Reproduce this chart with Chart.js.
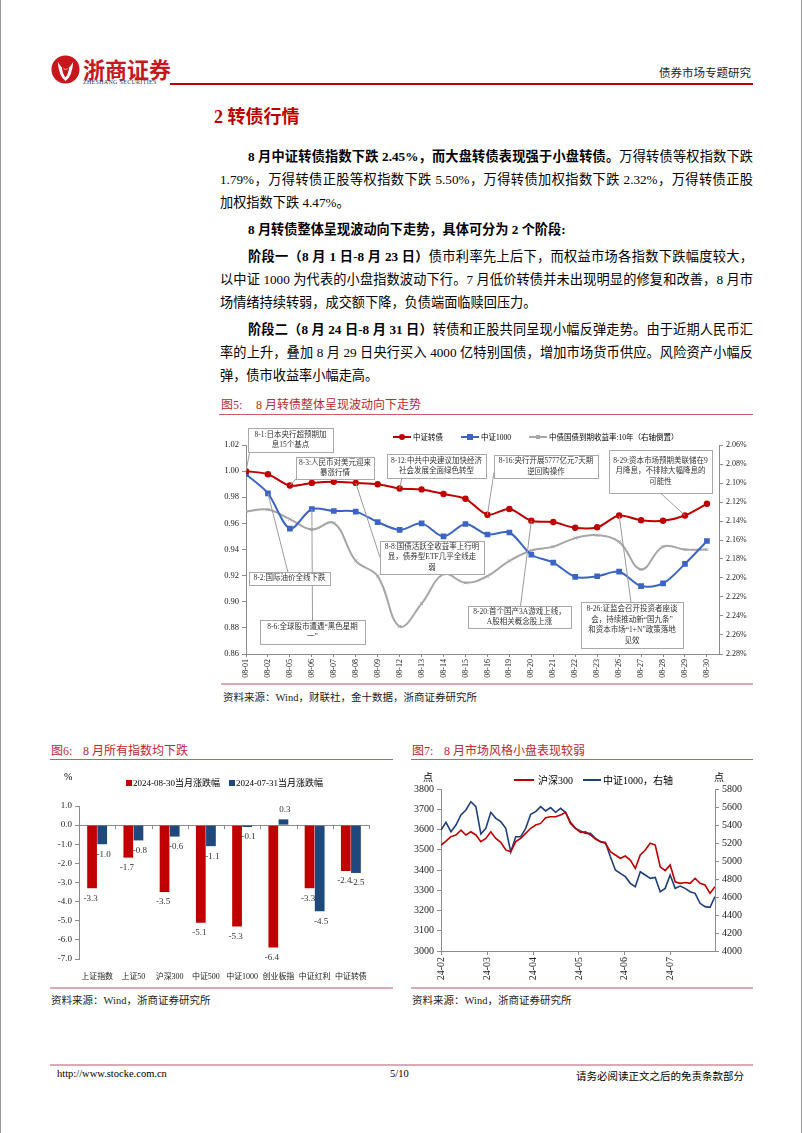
<!DOCTYPE html>
<html>
<head>
<meta charset="utf-8">
<script src="https://cdn.jsdelivr.net/npm/chart.js@4/dist/chart.umd.min.js"></script>
<style>
  body { margin: 0; background: #fff; }
  #page { position: relative; width: 800px; height: 1133px; border-left: 1px solid #999; border-right: 1px solid #999;
          overflow: hidden; font-family: "Liberation Serif", "Noto Sans CJK SC", serif; color: #000; }
  .abs { position: absolute; white-space: nowrap; }
  .ln { position: absolute; left: 219px; width: 533px; height: 22px; line-height: 22px; font-size: 13.2px;
        white-space: nowrap; text-align: justify; text-align-last: justify; }
  .ln.ind { left: 247px; width: 505px; }
  .ln.end { text-align-last: left; }
  .ftitle { position: absolute; font-size: 12px; color: #C0282D; white-space: nowrap; }
  .rline { position: absolute; height: 1px; background: #CE5B60; }
  .pline { position: absolute; height: 2px; background: #DDA9B2; }
  .src { position: absolute; font-size: 10.5px; color: #222; white-space: nowrap; }
  canvas { position: absolute; }
</style>
</head>
<body>
<div id="page">
  <!-- header -->
  <svg class="abs" style="left:50px;top:55px" width="29" height="29" viewBox="0 0 30 30">
    <circle cx="15" cy="15" r="14.5" fill="#C8161D"/>
    <path d="M7 7 Q15 22 23 7 Q22 22 15 27 Q8 22 7 7Z" fill="#fff"/>
    <path d="M11 11 Q15 19 19 11 Q18 20 15 23 Q12 20 11 11Z" fill="#C8161D"/>
  </svg>
  <div class="abs" style="left:82px;top:52px;font-size:22px;font-weight:700;color:#C8161D;font-family:'Noto Sans CJK SC'">浙商证券</div>
  <div class="abs" style="left:82px;top:79px;font-size:6px;letter-spacing:0.3px;color:#333">ZHESHANG SECURITIES</div>
  <div class="abs" style="left:169px;top:83px;width:583px;height:2px;background:#C00000"></div>
  <div class="abs" style="left:658px;top:64px;font-size:11.5px;color:#222">债券市场专题研究</div>

  <div class="abs" style="left:213px;top:102px;font-size:18px;font-weight:700;color:#C00000">2 转债行情</div>

  <div class="ln ind" style="top:146px"><b>8 月中证转债指数下跌 2.45%，而大盘转债表现强于小盘转债。</b>万得转债等权指数下跌</div>
  <div class="ln" style="top:169px">1.79%，万得转债正股等权指数下跌 5.50%，万得转债加权指数下跌 2.32%，万得转债正股</div>
  <div class="ln end" style="top:192px">加权指数下跌 4.47%。</div>
  <div class="ln ind end" style="top:219px"><b>8 月转债整体呈现波动向下走势，具体可分为 2 个阶段:</b></div>
  <div class="ln ind" style="top:246px"><b>阶段一（8 月 1 日-8 月 23 日）</b>债市利率先上后下，而权益市场各指数下跌幅度较大，</div>
  <div class="ln" style="top:269px">以中证 1000 为代表的小盘指数波动下行。7 月低价转债并未出现明显的修复和改善，8 月市</div>
  <div class="ln end" style="top:292px">场情绪持续转弱，成交额下降，负债端面临赎回压力。</div>
  <div class="ln ind" style="top:319px"><b>阶段二（8 月 24 日-8 月 31 日）</b>转债和正股共同呈现小幅反弹走势。由于近期人民币汇</div>
  <div class="ln" style="top:342px">率的上升，叠加 8 月 29 日央行买入 4000 亿特别国债，增加市场货币供应。风险资产小幅反</div>
  <div class="ln end" style="top:365px">弹，债市收益率小幅走高。</div>

  <!-- figure 5 -->
  <div class="ftitle" style="left:220px;top:395px">图5:</div>
  <div class="ftitle" style="left:255px;top:395px">8 月转债整体呈现波动向下走势</div>
  <div class="rline" style="left:218px;top:414px;width:534px"></div>
  <canvas id="c5" width="545" height="262" style="left:215px;top:420px"></canvas>
  <div class="abs" style="left:392px;top:436px;width:18px;height:2px;background:#C00000"></div>
  <div class="abs" style="left:398px;top:434px;width:6px;height:6px;border-radius:50%;background:#C00000"></div>
  <div class="abs" style="left:412px;top:431px;font-size:7.5px">中证转债</div>
  <div class="abs" style="left:460px;top:436px;width:18px;height:2px;background:#3B64C4"></div>
  <div class="abs" style="left:466px;top:434px;width:6px;height:6px;background:#3B64C4"></div>
  <div class="abs" style="left:480px;top:431px;font-size:7.5px">中证1000</div>
  <div class="abs" style="left:528px;top:436px;width:18px;height:2px;background:#A6A6A6"></div>
  <div class="abs" style="left:535px;top:435px;width:4px;height:4px;background:#A6A6A6"></div>
  <div class="abs" style="left:548px;top:431px;font-size:7.5px">中债国债到期收益率:10年（右轴倒置）</div>
  <div class="pline" style="left:220px;top:683px;width:532px"></div>
  <div class="src" style="left:222px;top:689px">资料来源：Wind，财联社，金十数据，浙商证券研究所</div>

  <!-- figure 6 -->
  <div class="ftitle" style="left:50px;top:741px">图6:</div>
  <div class="ftitle" style="left:82px;top:741px">8 月所有指数均下跌</div>
  <div class="rline" style="left:49px;top:759px;width:343px"></div>
  <canvas id="c6" width="352" height="220" style="left:40px;top:765px"></canvas>
  <div class="abs" style="left:63px;top:771px;font-size:10px">%</div>
  <div class="abs" style="left:125px;top:780px;width:6px;height:6px;background:#C00000"></div>
  <div class="abs" style="left:132px;top:776px;font-size:9px">2024-08-30当月涨跌幅</div>
  <div class="abs" style="left:228px;top:780px;width:6px;height:6px;background:#1F497D"></div>
  <div class="abs" style="left:235px;top:776px;font-size:9px">2024-07-31当月涨跌幅</div>
  <div class="pline" style="left:49px;top:987px;width:343px"></div>
  <div class="src" style="left:50px;top:992px">资料来源：Wind，浙商证券研究所</div>

  <!-- figure 7 -->
  <div class="ftitle" style="left:411px;top:741px">图7:</div>
  <div class="ftitle" style="left:443px;top:741px">8 月市场风格小盘表现较弱</div>
  <div class="rline" style="left:410px;top:759px;width:342px"></div>
  <canvas id="c7" width="360" height="220" style="left:400px;top:765px"></canvas>
  <div class="abs" style="left:422px;top:769px;font-size:10px">点</div>
  <div class="abs" style="left:713px;top:769px;font-size:10px">点</div>
  <div class="abs" style="left:513px;top:779px;width:20px;height:2px;background:#C00000"></div>
  <div class="abs" style="left:537px;top:772px;font-size:10px">沪深300</div>
  <div class="abs" style="left:582px;top:779px;width:18px;height:2px;background:#1F3F77"></div>
  <div class="abs" style="left:602px;top:772px;font-size:10px">中证1000，右轴</div>
  <div class="pline" style="left:410px;top:987px;width:342px"></div>
  <div class="src" style="left:411px;top:992px">资料来源：Wind，浙商证券研究所</div>

  <!-- footer -->
  <div class="pline" style="left:49px;top:1064px;width:703px"></div>
  <div class="abs" style="left:56px;top:1068px;font-size:10.5px">http://www.stocke.com.cn</div>
  <div class="abs" style="left:389px;top:1068px;font-size:10.5px">5/10</div>
  <div class="abs" style="left:575px;top:1068px;font-size:10.5px">请务必阅读正文之后的免责条款部分</div>
</div>

<script>
// Figure 5: August trading days
const days5 = ["08-01", "08-02", "08-05", "08-06", "08-07", "08-08", "08-09", "08-12", "08-13", "08-14", "08-15",
  "08-16", "08-19", "08-20", "08-21", "08-22", "08-23", "08-26", "08-27", "08-28", "08-29", "08-30"];
const cbIndex = [1.000, 0.9976, 0.989, 0.991, 0.9918, 0.991, 0.990, 0.9867, 0.986, 0.9825, 0.9788,
  0.9666, 0.971, 0.962, 0.961, 0.9566, 0.957, 0.966, 0.9624, 0.962, 0.966, 0.975];
const csi1000Norm = [0.9976, 0.983, 0.956, 0.971, 0.9695, 0.969, 0.961, 0.955, 0.960, 0.950, 0.9595,
  0.9515, 0.953, 0.936, 0.930, 0.919, 0.9195, 0.923, 0.912, 0.914, 0.929, 0.9465];
const gov10y = [2.130, 2.128, 2.138, 2.149, 2.142, 2.182, 2.198, 2.251, 2.227, 2.196, 2.205,
  2.198, 2.182, 2.171, 2.167, 2.158, 2.155, 2.162, 2.191, 2.167, 2.170, 2.170];

// event notes: series (0 red, 1 blue), day index, text lines
const noteText = [
  ["8-1:日本央行超预期加", "息15个基点"],
  ["8-3:人民币对美元迎来", "暴涨行情"],
  ["8-12:中共中央建议加快经济", "社会发展全面绿色转型"],
  ["8-16:央行开展5777亿元7天期", "逆回购操作"],
  ["8-29:资本市场预期美联储在9", "月降息，不排除大幅降息的", "可能性"],
  ["8-2:国际油价全线下跌"],
  ["8-6:全球股市遭遇“黑色星期", "一”"],
  ["8-8:国债活跃全收益率上行明", "显，债券型ETF几乎全线走", "弱"],
  ["8-20:首个国产3A游戏上线，", "A股相关概念股上涨"],
  ["8-26:证监会召开投资者座谈", "会，持续推动新“国九条”", "和资本市场“1+N”政策落地", "见效"]
];
const noteSeries = [0, 0, 0, 0, 0, 1, 1, 0, 0, 0];
const noteDay = [0, 2, 7, 11, 20, 1, 3, 5, 13, 17];

// Figure 6
const cats6 = ["上证指数", "上证50", "沪深300", "中证500", "中证1000", "创业板指", "中证红利", "中证转债"];
const aug6 = [-3.3, -1.7, -3.5, -5.1, -5.3, -6.4, -3.3, -2.4];
const jul6 = [-1.0, -0.8, -0.6, -1.1, -0.1, 0.3, -4.5, -2.5];

// Figure 7: sampled closes, Feb to end of period
const hs300 = [3523, 3543, 3565, 3573, 3597, 3573, 3589, 3573, 3540, 3556, 3589, 3556, 3537, 3499, 3490, 3540,
  3556, 3581, 3606, 3622, 3630, 3658, 3663, 3663, 3672, 3685, 3630, 3606, 3586, 3589, 3573, 3553, 3540, 3532,
  3490, 3474, 3458, 3469, 3449, 3408, 3474, 3499, 3532, 3523, 3416, 3397, 3425, 3342, 3334, 3338, 3334, 3359,
  3334, 3326, 3285, 3318];
const csi1000 = [5344, 5430, 5326, 5400, 5511, 5567, 5659, 5604, 5300, 5363, 5541, 5474, 5437, 5363, 5100, 5270,
  5270, 5363, 5519, 5548, 5604, 5556, 5593, 5541, 5585, 5541, 5430, 5363, 5333, 5307, 5307, 5252, 5215, 5207,
  5048, 4900, 4863, 4826, 4752, 4715, 4881, 4844, 4807, 4818, 4659, 4696, 4844, 4696, 4722, 4696, 4659, 4641,
  4530, 4493, 4485, 4604];
const monthLbl = ["24-02", "24-03", "24-04", "24-05", "24-06", "24-07"];
const monthPos = [0, 9.4, 18.5, 27.7, 36.9, 46.1];

Chart.defaults.font.family = '"Liberation Serif", "Noto Sans CJK SC", serif';
Chart.defaults.color = "#222";
Chart.defaults.animation = false;
Chart.defaults.responsive = false;
Chart.defaults.plugins.legend.display = false;
Chart.defaults.plugins.tooltip.enabled = false;

const AX = "#8c8c8c";
const toXY = arr => arr.map((v, i) => ({ x: i, y: v }));

// note boxes (canvas px): x, y, w, h, anchor fraction ax, ay
const noteBox = [
  [32, 8, 85, 24, 0.02, 1], [80, 37, 78, 22, 0, 1], [171, 34, 99, 24, 0.15, 1], [278, 35, 104, 23, 0, 0.75],
  [393, 30, 103, 43, 0.5, 1], [33, 152, 81, 13, 0.48, 0], [44, 200, 105, 24, 0.5, 0], [164, 121, 104, 33, 0, 0.5],
  [252, 186, 103, 22, 0.51, 0], [365, 182, 102, 46, 0.49, 0]
];

const notesPlugin = {
  id: "notes",
  afterDatasetsDraw(chart) {
    const ctx = chart.ctx;
    ctx.save();
    ctx.strokeStyle = "#9a9a9a";
    ctx.lineWidth = 1;
    noteBox.forEach((b, k) => {
      const pt = chart.getDatasetMeta(noteSeries[k]).data[noteDay[k]];
      ctx.beginPath();
      ctx.moveTo(b[0] + b[2] * b[4], b[1] + b[3] * b[5]);
      ctx.lineTo(pt.x, pt.y);
      ctx.stroke();
    });
    ctx.font = '7.5px "Liberation Serif", "Noto Sans CJK SC", serif';
    ctx.textAlign = "center";
    ctx.textBaseline = "middle";
    noteBox.forEach((b, k) => {
      ctx.fillStyle = "#fff";
      ctx.fillRect(b[0], b[1], b[2], b[3]);
      ctx.strokeStyle = "#a8a8a8";
      ctx.strokeRect(b[0] + 0.5, b[1] + 0.5, b[2], b[3]);
      ctx.fillStyle = "#333";
      const lines = noteText[k];
      const cy = b[1] + b[3] / 2;
      lines.forEach((t, j) => ctx.fillText(t, b[0] + b[2] / 2, cy + (j - (lines.length - 1) / 2) * 10.5));
    });
    ctx.restore();
  }
};

new Chart(document.getElementById("c5"), {
  type: "line",
  data: {
    datasets: [
      { data: toXY(cbIndex), yAxisID: "y", borderColor: "#C00000", backgroundColor: "#C00000", borderWidth: 2,
        pointStyle: "circle", pointRadius: 2.2, tension: 0.3, order: 0 },
      { data: toXY(csi1000Norm), yAxisID: "y", borderColor: "#3B64C4", backgroundColor: "#3B64C4", borderWidth: 2,
        pointStyle: "rect", pointRadius: 2.6, tension: 0.3, order: 1 },
      { data: toXY(gov10y), yAxisID: "y2", borderColor: "#A6A6A6", backgroundColor: "#A6A6A6", borderWidth: 2,
        pointStyle: "crossRot", pointRadius: 2.2, pointBorderWidth: 1, tension: 0.4, order: 2 }
    ]
  },
  options: {
    layout: { padding: { top: 25 } },
    scales: {
      x: {
        type: "linear", min: 0, max: 21.55,
        afterBuildTicks: a => { a.ticks = days5.map((d, i) => ({ value: i })); },
        ticks: { autoSkip: false, minRotation: 90, maxRotation: 90, font: { size: 8 }, padding: 2,
          callback: (v, i) => days5[i] },
        grid: { drawOnChartArea: false, tickLength: 3, color: AX },
        border: { color: AX },
        afterFit: a => { a.height = 28; }
      },
      y: {
        position: "left", min: 0.86, max: 1.02,
        ticks: { stepSize: 0.02, font: { size: 8.5 }, callback: v => v.toFixed(2) },
        grid: { drawOnChartArea: false, tickLength: 4, color: AX },
        border: { color: AX },
        afterFit: a => { a.width = 30; }
      },
      y2: {
        position: "right", reverse: true, min: 2.06, max: 2.28,
        ticks: { stepSize: 0.02, font: { size: 8 }, callback: v => v.toFixed(2) + "%" },
        grid: { drawOnChartArea: false, tickLength: 4, color: AX },
        border: { color: AX },
        afterFit: a => { a.width = 42; }
      }
    }
  },
  plugins: [notesPlugin]
});

// Figure 6
const barLabels = {
  id: "barLabels",
  afterDatasetsDraw(chart) {
    const ctx = chart.ctx;
    ctx.save();
    ctx.font = '9px "Liberation Serif", serif';
    ctx.fillStyle = "#333";
    ctx.textAlign = "center";
    ctx.textBaseline = "middle";
    chart.data.datasets.forEach((ds, d) => {
      chart.getDatasetMeta(d).data.forEach((el, i) => {
        const v = ds.data[i];
        ctx.fillText(v.toFixed(1), el.x + (d ? 1.5 : -1.5), el.y + (v < 0 ? 10 : -10));
      });
    });
    const y = chart.scales.y, a = chart.chartArea;
    const y0 = y.getPixelForValue(0), n = cats6.length;
    ctx.strokeStyle = AX;
    ctx.lineWidth = 1;
    for (let i = 0; i <= n; i++) {
      const x = Math.round(a.left + i * (a.right - a.left) / n) + 0.5;
      ctx.beginPath();
      ctx.moveTo(x, y0);
      ctx.lineTo(x, y0 + 4);
      ctx.stroke();
    }
    ctx.restore();
  }
};

new Chart(document.getElementById("c6"), {
  type: "bar",
  data: {
    labels: cats6,
    datasets: [
      { data: aug6, backgroundColor: "#C00000", categoryPercentage: 0.56, barPercentage: 0.96 },
      { data: jul6, backgroundColor: "#1F497D", categoryPercentage: 0.56, barPercentage: 0.96 }
    ]
  },
  options: {
    layout: { padding: { top: 41, right: 24 } },
    scales: {
      x: {
        grid: { display: false }, border: { display: false },
        ticks: { font: { size: 8 }, padding: 5, autoSkip: false, maxRotation: 0 },
        afterFit: a => { a.height = 26; }
      },
      y: {
        min: -7, max: 1,
        ticks: { stepSize: 1, font: { size: 9 }, callback: v => v.toFixed(1) },
        grid: { color: c => (c.tick && c.tick.value === 0 ? AX : "rgba(0,0,0,0)"), tickColor: AX, tickLength: 4 },
        border: { color: AX },
        afterFit: a => { a.width = 38; }
      }
    }
  },
  plugins: [barLabels]
});

// Figure 7
new Chart(document.getElementById("c7"), {
  type: "line",
  data: {
    datasets: [
      { data: toXY(hs300), yAxisID: "y", borderColor: "#C00000", borderWidth: 1.6, pointRadius: 0, order: 0 },
      { data: toXY(csi1000), yAxisID: "y2", borderColor: "#1F3F77", borderWidth: 1.6, pointRadius: 0, order: 1 }
    ]
  },
  options: {
    layout: { padding: { top: 24 } },
    scales: {
      x: {
        type: "linear", min: 0, max: hs300.length - 1,
        afterBuildTicks: a => { a.ticks = monthPos.map(v => ({ value: v })); },
        ticks: { autoSkip: false, minRotation: 90, maxRotation: 90, font: { size: 10 }, padding: 2,
          callback: (v, i) => monthLbl[i] },
        grid: { drawOnChartArea: false, tickLength: 4, color: AX },
        border: { color: AX },
        afterFit: a => { a.height = 34; }
      },
      y: {
        position: "left", min: 3000, max: 3800,
        ticks: { stepSize: 100, font: { size: 10 }, callback: v => String(v) },
        grid: { drawOnChartArea: false, tickLength: 4, color: AX },
        border: { color: AX },
        afterFit: a => { a.width = 40; }
      },
      y2: {
        position: "right", min: 4000, max: 5800,
        ticks: { stepSize: 200, font: { size: 10 }, callback: v => String(v) },
        grid: { drawOnChartArea: false, tickLength: 4, color: AX },
        border: { color: AX },
        afterFit: a => { a.width = 46; }
      }
    }
  }
});
</script>
</body>
</html>
